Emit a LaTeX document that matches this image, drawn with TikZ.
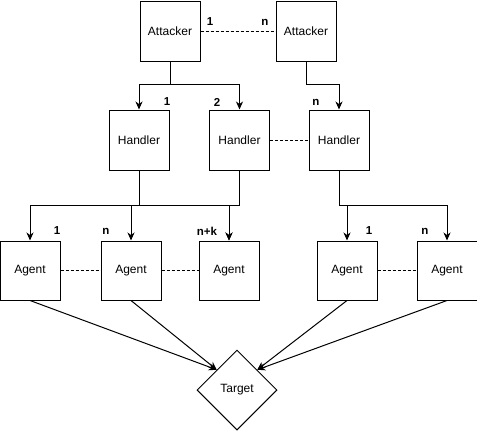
\documentclass[tikz,border=0pt]{standalone}
\usepackage{fontspec}
\setmainfont{Liberation Sans}
\usetikzlibrary{arrows.meta,shapes.geometric}
\begin{document}
\begin{tikzpicture}[x=1pt,y=-1pt,
  every node/.style={font=\fontsize{12}{14}\selectfont},
  box/.style={draw,line width=1pt,minimum width=60pt,minimum height=60pt,inner sep=0pt},
  abox/.style={box,minimum height=59pt},
  lbl/.style={font=\fontsize{11.5}{14}\selectfont\bfseries,inner sep=0pt},
  arr/.style={line width=1pt,-{Stealth[length=8pt,width=7pt,inset=2.5pt]}},
  link/.style={line width=0.8pt,dashed,dash pattern=on 3pt off 2pt}]
\useasboundingbox (0,0) rectangle (477,431);

% attackers
\node[box] (a1) at (170,31) {Attacker};
\node[box] (a2) at (306,31) {Attacker};
% handlers
\node[box] (h1) at (139,140) {Handler};
\node[box] (h2) at (239.5,140) {Handler};
\node[box] (h3) at (339,140) {Handler};
% agents
\node[abox] (g1) at (30,270.5) {Agent};
\node[abox] (g2) at (131,270.5) {Agent};
\node[abox] (g3) at (229,270.5) {Agent};
\node[abox] (g4) at (347,270.5) {Agent};
\node[abox] (g5) at (447,270.5) {Agent};
% target
\node[draw,line width=1pt,diamond,aspect=1,minimum width=80pt,minimum height=80pt,inner sep=0pt] (t) at (237,390) {Target};

% peer links
\draw[link] (a1) -- (a2);
\draw[link] (h2) -- (h3);
\draw[link] (g1) -- (g2);
\draw[link] (g2) -- (g3);
\draw[link] (g4) -- (g5);

% attacker -> handler
\draw[arr] (a1.south) -- ++(0,23) -| (h1.north);
\draw[arr] (a1.south) -- ++(0,23) -| (h2.north);
\draw[arr] (a2.south) -- ++(0,23) -| (h3.north);

% handler -> agent
\draw[arr] (h1.south) -- ++(0,35) -| (g1.north);
\draw[arr] (h1.south) -- ++(0,35) -| (g2.north);
\draw[arr] (h1.south) -- ++(0,35) -| (g3.north);
\draw[arr] (h2.south) -- ++(0,35) -| (g3.north);
\draw[arr] (h3.south) -- ++(0,35) -| (g4.north);
\draw[arr] (h3.south) -- ++(0,35) -| (g5.north);

% agent -> target
\draw[arr] (g1.south) -- (t.north west);
\draw[arr] (g2.south) -- (t.north west);
\draw[arr] (g4.south) -- (t.north east);
\draw[arr] (g5.south) -- (t.north east);

% multiplicity labels
\node[lbl] (m1) at (210,22) {1};
\node[lbl] (m2) at (265,22) {n};
\node[lbl] (m3) at (167,102) {1};
\node[lbl] (m4) at (217,102) {2};
\node[lbl] (m5) at (316,102) {n};
\node[lbl] (m6) at (57,231) {1};
\node[lbl] (m7) at (106,231) {n};
\node[lbl] (m8) at (207,231) {n+k};
\node[lbl] (m9) at (369,231) {1};
\node[lbl] (m10) at (425,231) {n};
\end{tikzpicture}
\end{document}
